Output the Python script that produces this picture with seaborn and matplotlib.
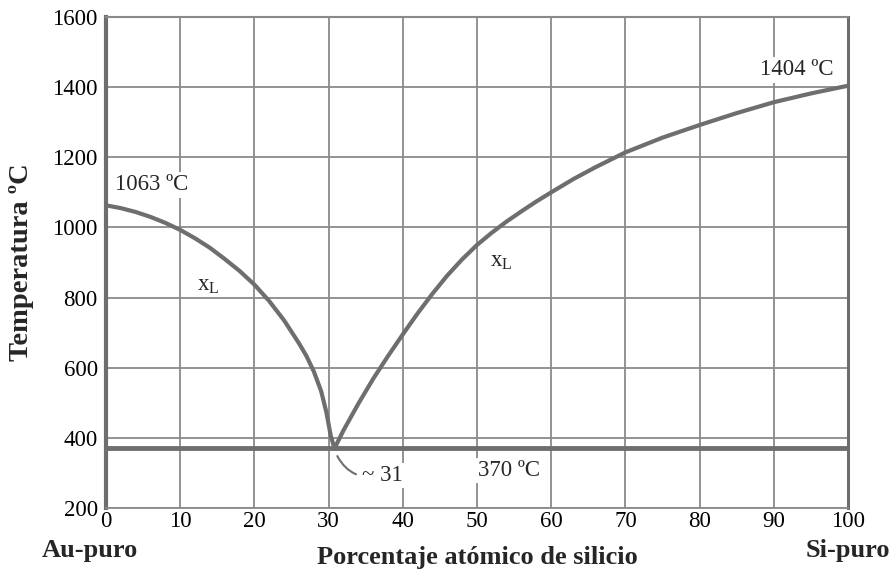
import matplotlib
matplotlib.use("Agg")
import matplotlib.pyplot as plt
import seaborn as sns
import pandas as pd

# Data
left_x = [0, 2, 4, 6, 8, 10, 12, 14, 16, 18, 20, 22, 24, 26, 27, 28, 29, 29.7, 30.3, 30.8]
left_t = [1063, 1055, 1044, 1030, 1013, 993, 969, 942, 910, 876, 837, 790, 735, 670, 634, 590, 533, 473, 405, 370]
right_x = [30.8, 32, 34, 36, 38, 40, 42, 44, 46, 48, 50, 52, 54, 56, 58, 60, 63, 66, 70, 75, 80, 85, 90, 95, 100]
right_t = [370, 421, 497, 568, 633, 695, 755, 811, 863, 909, 950, 985, 1017, 1046, 1074, 1100, 1138, 1172, 1214, 1256, 1292, 1326, 1357, 1382, 1404]
eutectic_x = [0, 100]
eutectic_t = [370, 370]
x_ticks = list(range(0, 101, 10))
y_ticks = list(range(200, 1601, 200))

sns.set_theme(style="white")
plt.rcParams['font.family'] = ['Liberation Serif', 'DejaVu Serif']
plt.rcParams['mathtext.fontset'] = 'stix'

fig = plt.figure(figsize=(8.92, 5.72), dpi=100)
ax = fig.add_axes([0.1188, 0.1119, 0.8319, 0.8584])

gray = "#6e6e6e"
grid = "#8a8a8a"

df_left = pd.DataFrame({"x": left_x, "T": left_t})
df_right = pd.DataFrame({"x": right_x, "T": right_t})
df_eut = pd.DataFrame({"x": eutectic_x, "T": eutectic_t})

for df in (df_left, df_right):
    sns.lineplot(data=df, x="x", y="T", ax=ax, color=gray, lw=3, sort=False, zorder=3)
sns.lineplot(data=df_eut, x="x", y="T", ax=ax, color=gray, lw=3.5, zorder=3)

ax.set_xlim(0, 100)
ax.set_ylim(200, 1600)
ax.set_xticks(x_ticks)
ax.set_yticks(y_ticks)
ax.grid(True, color=grid, lw=1.3)
ax.set_axisbelow(True)
ax.tick_params(axis='both', length=0, labelsize=16.5, colors="black")
ax.tick_params(axis='x', pad=2)
ax.tick_params(axis='y', pad=6)

for side, lw in (("left", 3), ("right", 2.2), ("top", 1.5), ("bottom", 1.3)):
    ax.spines[side].set_color(grid if side in ("top", "bottom") else gray)
    ax.spines[side].set_linewidth(lw)

ax.set_xlabel("Porcentaje atómico de silicio", fontsize=19, fontweight="bold", labelpad=10)
ax.set_ylabel("Temperatura ºC", fontsize=20.5, fontweight="bold", labelpad=13)

fig.text(0.101, 0.038, "Au-puro", fontsize=19, fontweight="bold", ha="center", va="center")
fig.text(0.951, 0.038, "Si-puro", fontsize=19, fontweight="bold", ha="center", va="center")

bbox = dict(facecolor="white", edgecolor="none", pad=1.5)
fs = 16.5
ax.text(1.2, 1121, "1063 ºC", fontsize=fs, ha="left", va="center", bbox=bbox, zorder=5)
ax.text(98.0, 1449, "1404 ºC", fontsize=fs, ha="right", va="center", bbox=bbox, zorder=5)
ax.text(12.3, 838, r"x$_{\mathregular{L}}$", fontsize=fs, ha="left", va="center", bbox=bbox, zorder=5)
ax.text(51.8, 905, r"x$_{\mathregular{L}}$", fontsize=fs, ha="left", va="center", bbox=bbox, zorder=5)
ax.text(50.1, 307, "370 ºC", fontsize=fs, ha="left", va="center", bbox=bbox, zorder=5)
ax.annotate("~ 31", xy=(31.0, 355), xytext=(34.5, 293), fontsize=fs, ha="left", va="center",
            bbox=bbox, zorder=5,
            arrowprops=dict(arrowstyle="-", color=gray, lw=1.5,
                            connectionstyle="arc3,rad=-0.4", shrinkA=3, shrinkB=2))

fig.savefig("out.png", dpi=100, facecolor="white")
